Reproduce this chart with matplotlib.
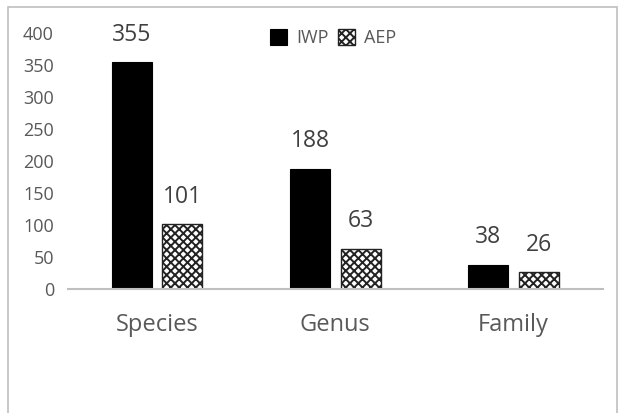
import numpy as np
import matplotlib
matplotlib.use("Agg")
import matplotlib.pyplot as plt
from matplotlib.patches import Rectangle

categories = ["Species", "Genus", "Family"]
iwp = [355, 188, 38]
aep = [101, 63, 26]
yticks = [0, 50, 100, 150, 200, 250, 300, 350, 400]

plt.rcParams["font.family"] = ["Open Sans", "DejaVu Sans"]
plt.rcParams["hatch.linewidth"] = 1.4
plt.rcParams["hatch.color"] = "black"

fig = plt.figure(figsize=(6.22, 4.13), dpi=100)
ax = fig.add_axes([0.109, 0.300, 0.860, 0.620])

x = np.arange(len(categories))
w = 0.225
off = 0.142

b1 = ax.bar(x - off, iwp, w, color="black", edgecolor="black", linewidth=0.8, label="IWP")
b2 = ax.bar(x + off, aep, w, color="white", edgecolor="#222222", linewidth=1.0,
            hatch="xxxx", label="AEP")

for bars, vals in [(b1, iwp), (b2, aep)]:
    for r, v in zip(bars, vals):
        ax.annotate(str(v), (r.get_x() + r.get_width() / 2, v), xytext=(0, 11),
                    textcoords="offset points", ha="center", va="bottom",
                    fontsize=16.5, color="#404040")

ax.set_xlim(-0.5, len(categories) - 0.5)
ax.set_ylim(0, 400)
ax.set_yticks(yticks)
ax.set_xticks(x)
ax.set_xticklabels(categories, fontsize=17, color="#595959")
ax.tick_params(axis="y", length=0, pad=10, labelsize=13, labelcolor="#595959")
ax.tick_params(axis="x", length=0, pad=17)
for s in ["top", "right", "left"]:
    ax.spines[s].set_visible(False)
ax.spines["bottom"].set_color("#bfbfbf")
ax.spines["bottom"].set_linewidth(1.5)

leg = ax.legend(loc="center", bbox_to_anchor=(333 / 622, 1 - 38 / 413),
                bbox_transform=fig.transFigure, ncol=2, frameon=False,
                fontsize=13, handlelength=0.95, handleheight=0.95,
                handletextpad=0.5, columnspacing=0.5, labelcolor="#595959")

# outer chart border
fig.patches.append(Rectangle((8 / 622, -0.1), 609 / 622, 1.1 - 7 / 413,
                             transform=fig.transFigure, fill=False,
                             edgecolor="#bfbfbf", linewidth=1.2))

fig.savefig("out.png", dpi=100)
